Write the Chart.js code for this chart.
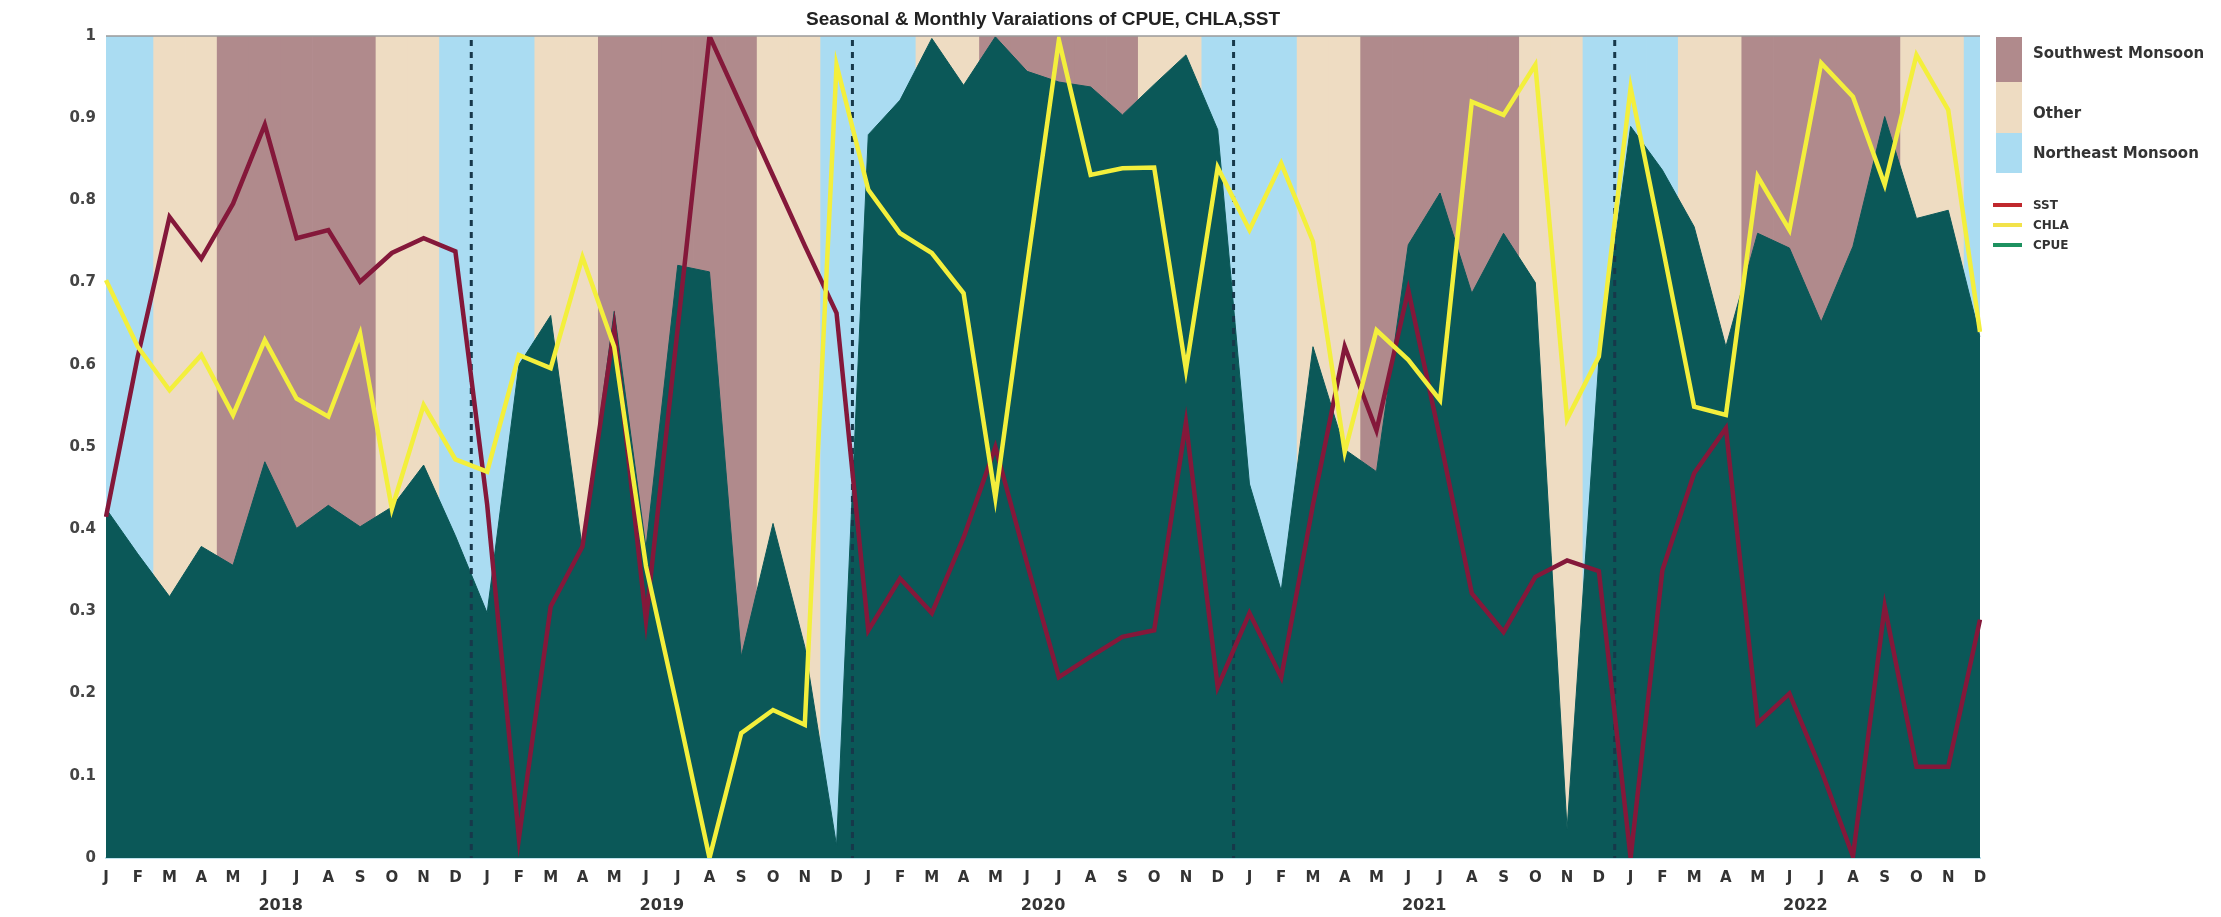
<!DOCTYPE html>
<html>
<head>
<meta charset="utf-8">
<title>Seasonal & Monthly Varaiations of CPUE, CHLA,SST</title>
<script src="https://cdn.jsdelivr.net/npm/chart.js@4.4.1/dist/chart.umd.min.js"></script>
<style>
  html, body { margin: 0; padding: 0; background: #fff; }
  #wrap { position: relative; width: 2221px; height: 917px; }
  #legend { position: absolute; left: 1993px; top: 37px; font-family: 'DejaVu Sans', sans-serif; font-weight: bold; color: #333; }
  .season { position: absolute; left: 3px; width: 26px; }
  .season-lbl { position: absolute; left: 40px; font-size: 15px; white-space: nowrap; transform: translateY(-50%); }
  .line-sw { position: absolute; left: 0; width: 29px; height: 4px; transform: translateY(-50%); }
  .line-lbl { position: absolute; left: 40px; font-size: 12px; transform: translateY(-50%); }
</style>
</head>
<body>
<div id="wrap">
  <canvas id="chart" width="2221" height="917"></canvas>
  <div id="legend"></div>
</div>
<script>
/* ===== DATA ===== */
const MONTH_LETTERS = ['J','F','M','A','M','J','J','A','S','O','N','D'];
const YEARS = ['2018','2019','2020','2021','2022'];
// season of each calendar month: NE = Northeast Monsoon, OT = Other, SW = Southwest Monsoon
const SEASON_BY_MONTH = ['NE','NE','OT','OT','SW','SW','SW','SW','SW','OT','OT','NE'];

const CPUE = [
  0.425,0.370,0.318,0.379,0.356,0.482,0.401,0.429,0.403,0.427,0.478,0.392,
  0.298,0.600,0.660,0.375,0.665,0.377,0.721,0.713,0.245,0.407,0.257,0.015,
  0.880,0.922,0.997,0.940,0.999,0.957,0.944,0.938,0.904,0.941,0.977,0.886,
  0.455,0.325,0.622,0.497,0.470,0.746,0.809,0.687,0.760,0.700,0.035,0.605,
  0.890,0.837,0.768,0.622,0.760,0.742,0.652,0.744,0.902,0.778,0.788,0.634
];
const CHLA = [
  0.703,0.622,0.569,0.612,0.539,0.630,0.559,0.537,0.638,0.425,0.551,0.485,
  0.470,0.612,0.596,0.731,0.622,0.355,0.180,0.000,0.152,0.180,0.162,0.965,
  0.813,0.760,0.736,0.687,0.438,0.720,0.995,0.831,0.839,0.840,0.594,0.840,
  0.764,0.845,0.750,0.494,0.642,0.606,0.557,0.920,0.904,0.965,0.534,0.610,
  0.937,0.745,0.549,0.539,0.829,0.764,0.967,0.926,0.819,0.977,0.910,0.640
];
const SST = [
  0.415,0.610,0.780,0.729,0.796,0.892,0.754,0.764,0.701,0.736,0.754,0.738,
  0.430,0.024,0.306,0.379,0.645,0.289,0.645,1.000,0.915,0.830,0.745,0.663,
  0.277,0.340,0.298,0.390,0.500,0.358,0.220,0.245,0.269,0.277,0.530,0.208,
  0.298,0.220,0.430,0.622,0.520,0.691,0.510,0.322,0.275,0.342,0.362,0.349,
  0.000,0.350,0.468,0.523,0.164,0.200,0.107,0.002,0.306,0.111,0.111,0.290
];

const SEASON_STYLE = {
  SW: { label: 'Southwest Monsoon', color: '#b08a8c' },
  OT: { label: 'Other',             color: '#eedcc2' },
  NE: { label: 'Northeast Monsoon', color: '#aadcf2' },
};
const COLORS = { cpue: '#0b5858', chla: '#f3ef3c', sst: '#84183a', divider: '#17384a' };
const FONT = "'DejaVu Sans', sans-serif";

const labels = YEARS.flatMap(() => MONTH_LETTERS);
const seasonColors = YEARS.flatMap(() => SEASON_BY_MONTH.map(s => SEASON_STYLE[s].color));
const bandTop = labels.map(() => 1);

/* ===== PLUGINS ===== */
const titlePlugin = {
  id: 'plotTitle',
  afterDraw(chart) {
    const { ctx, chartArea: a } = chart;
    ctx.save();
    ctx.font = "bold 19px 'Liberation Sans', Arial, sans-serif";
    ctx.fillStyle = '#222';
    ctx.textAlign = 'center'; ctx.textBaseline = 'middle';
    ctx.fillText('Seasonal & Monthly Varaiations of CPUE, CHLA,SST', (a.left + a.right) / 2, 20);
    ctx.restore();
  }
};

// dotted year dividers, drawn right after the CPUE area
const dividerPlugin = {
  id: 'yearDividers',
  afterDatasetDraw(chart, args) {
    if (args.index !== 1) return;
    const { ctx, chartArea: a, scales: { x } } = chart;
    ctx.save();
    ctx.strokeStyle = COLORS.divider; ctx.lineWidth = 3; ctx.setLineDash([6, 6]);
    for (let k = 1; k < YEARS.length; k++) {
      const px = x.getPixelForValue(12 * k - 0.5);
      ctx.beginPath(); ctx.moveTo(px, a.top + 4); ctx.lineTo(px, a.bottom); ctx.stroke();
    }
    ctx.restore();
  }
};

const yearPlugin = {
  id: 'yearLabels',
  afterDraw(chart) {
    const { ctx, scales: { x } } = chart;
    ctx.save();
    ctx.font = 'bold 16px ' + FONT; ctx.fillStyle = '#333';
    ctx.textAlign = 'center'; ctx.textBaseline = 'middle';
    YEARS.forEach((yr, k) => {
      const px = (x.getPixelForValue(12 * k) + x.getPixelForValue(12 * k + 11)) / 2;
      ctx.fillText(yr, px, 906);
    });
    ctx.strokeStyle = '#9a9a9a'; ctx.lineWidth = 1.5;
    ctx.beginPath(); ctx.moveTo(chart.chartArea.left, chart.chartArea.top); ctx.lineTo(chart.chartArea.right, chart.chartArea.top); ctx.stroke();
    ctx.restore();
  }
};

/* ===== CHART ===== */
new Chart(document.getElementById('chart'), {
  type: 'bar',
  data: {
    labels,
    datasets: [
      { type: 'line', label: 'SST', data: SST, borderColor: COLORS.sst, borderWidth: 4.5,
        pointRadius: 0, tension: 0, fill: false, order: 1 },
      { type: 'line', label: 'CPUE', data: CPUE, borderColor: COLORS.cpue, backgroundColor: COLORS.cpue,
        borderWidth: 1, pointRadius: 0, tension: 0, fill: 'origin', order: 2 },
      { type: 'line', label: 'CHLA', data: CHLA, borderColor: COLORS.chla, borderWidth: 4.5,
        pointRadius: 0, tension: 0, fill: false, order: 0 },
      { type: 'bar', label: 'Season', data: bandTop, backgroundColor: seasonColors,
        borderWidth: 0, barPercentage: 1, categoryPercentage: 1, clip: 0, order: 3 },
    ]
  },
  options: {
    responsive: false, animation: false, devicePixelRatio: 1,
    layout: { padding: { top: 36, right: 241, left: 0, bottom: 0 } },
    plugins: { legend: { display: false }, tooltip: { enabled: false }, title: { display: false } },
    scales: {
      x: { type: 'category', offset: false,
        grid: { display: false, drawTicks: false },
        border: { display: true, color: '#bfe3ee', width: 2 },
        ticks: { autoSkip: false, maxRotation: 0, padding: 11,
          font: { family: FONT, size: 15, weight: 'bold' }, color: '#333' },
        afterFit: s => { s.height = 59; } },
      y: { min: 0, max: 1,
        grid: { display: false, drawTicks: false },
        border: { display: false },
        ticks: { stepSize: 0.1, padding: 10,
          font: { family: FONT, size: 15, weight: 'bold' }, color: '#444',
          callback: v => String(+v.toFixed(1)) },
        afterFit: s => { s.width = 106; } }
    }
  },
  plugins: [titlePlugin, dividerPlugin, yearPlugin]
});

/* ===== LEGEND ===== */
(function buildLegend() {
  const lg = document.getElementById('legend');
  const blocks = [['SW', 0, 45], ['OT', 45, 51], ['NE', 96, 40]];
  blocks.forEach(([key, top, h]) => {
    const sw = document.createElement('div');
    sw.className = 'season';
    sw.style.top = top + 'px'; sw.style.height = h + 'px';
    sw.style.background = SEASON_STYLE[key].color;
    lg.appendChild(sw);
  });
  [['SW', 16], ['OT', 76], ['NE', 116]].forEach(([key, y]) => {
    const t = document.createElement('div');
    t.className = 'season-lbl'; t.style.top = y + 'px';
    t.textContent = SEASON_STYLE[key].label;
    lg.appendChild(t);
  });
  [['SST', '#c0282d', 168], ['CHLA', '#f2e24a', 188], ['CPUE', '#1d9160', 208]].forEach(([name, col, y]) => {
    const sw = document.createElement('div');
    sw.className = 'line-sw'; sw.style.top = y + 'px'; sw.style.background = col;
    const t = document.createElement('div');
    t.className = 'line-lbl'; t.style.top = y + 'px'; t.textContent = name;
    lg.appendChild(sw); lg.appendChild(t);
  });
})();
</script>
</body>
</html>
